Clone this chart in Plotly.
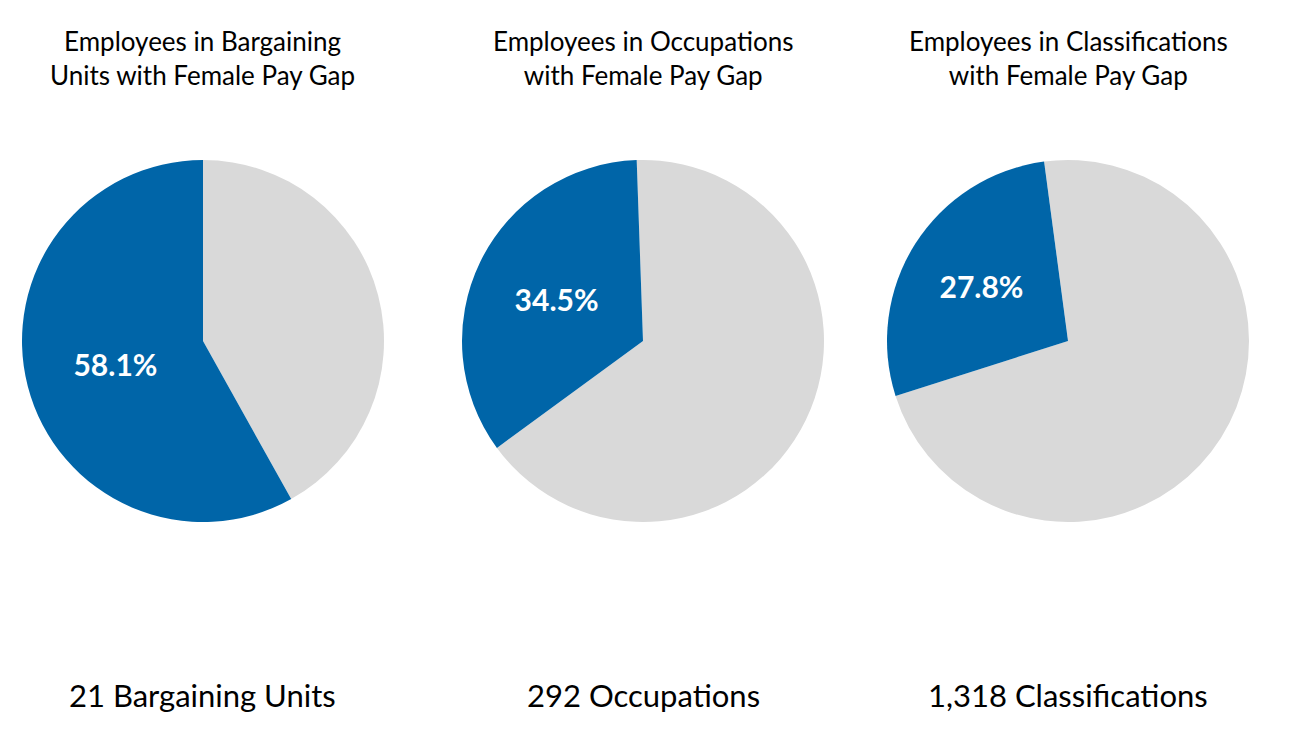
import plotly.graph_objects as go

titles = ["Employees in Bargaining<br>Units with Female Pay Gap",
          "Employees in Occupations<br>with Female Pay Gap",
          "Employees in Classifications<br>with Female Pay Gap"]
gap_share = [58.1, 34.5, 27.8]
counts = ["21 Bargaining Units", "292 Occupations", "1,318 Classifications"]
rotations = [0, -2, -7.6]

BLUE = "#0065A8"
GRAY = "#D9D9D9"
FONT = "Lato"

W, H = 1293, 754
centers_x = [203, 643, 1068]
cy = 341
r = 181

fig = go.Figure()
for i in range(3):
    cx = centers_x[i]
    fig.add_trace(go.Pie(
        values=[100 - gap_share[i], gap_share[i]],
        labels=["Other", "With gap"],
        text=["", f"{gap_share[i]:.1f}%"],
        textinfo="text",
        textposition="inside",
        insidetextorientation="horizontal",
        textfont=dict(family=FONT, size=30, color="white", weight="bold"),
        marker=dict(colors=[GRAY, BLUE], line=dict(width=0)),
        sort=False,
        direction="clockwise",
        rotation=rotations[i],
        showlegend=False,
        hoverinfo="skip",
        domain=dict(x=[(cx - r) / W, (cx + r) / W],
                    y=[(H - cy - r) / H, (H - cy + r) / H]),
    ))
    fig.add_annotation(x=cx / W, y=1 - 58.5 / H, xref="paper", yref="paper",
                       text=titles[i], showarrow=False,
                       font=dict(family=FONT, size=26, color="black"),
                       xanchor="center", yanchor="middle", align="center")
    fig.add_annotation(x=cx / W, y=1 - 695 / H, xref="paper", yref="paper",
                       text=counts[i], showarrow=False,
                       font=dict(family=FONT, size=31, color="black"),
                       xanchor="center", yanchor="middle")

fig.update_layout(width=W, height=H, margin=dict(l=0, r=0, t=0, b=0),
                  paper_bgcolor="white", plot_bgcolor="white")
fig.write_html("out.html", config={"displayModeBar": False},
               post_script="document.body.style.margin='0px';")
